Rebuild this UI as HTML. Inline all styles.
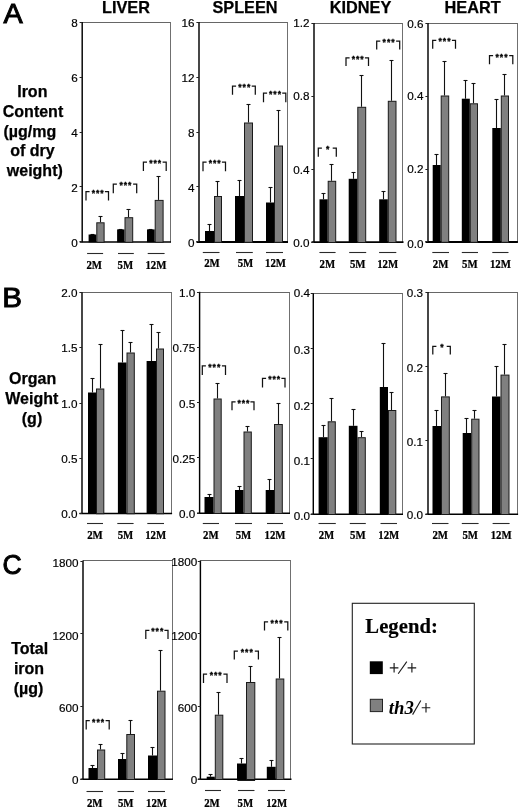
<!DOCTYPE html>
<html><head><meta charset="utf-8"><title>Figure</title>
<style>html,body{margin:0;padding:0;background:#fff;}body{width:520px;height:810px;overflow:hidden;font-family:"Liberation Sans",sans-serif;}svg{display:block;filter:blur(0.38px);}</style>
</head><body>
<svg width="520" height="810" viewBox="0 0 520 810" shape-rendering="auto">
<rect x="0" y="0" width="520" height="810" fill="#fff"/>
<line x1="82.2" y1="22.5" x2="171.0" y2="22.5" stroke="#666" stroke-width="1" />
<line x1="170.5" y1="22.5" x2="170.5" y2="242.3" stroke="#707070" stroke-width="1" />
<line x1="82.2" y1="22.0" x2="82.2" y2="242.3" stroke="#000" stroke-width="1.45" />
<line x1="79.7" y1="242.0" x2="171.0" y2="242.0" stroke="#000" stroke-width="1.5" />
<line x1="79.60000000000001" y1="22.5" x2="82.2" y2="22.5" stroke="#222" stroke-width="1" />
<text x="77.8" y="26.8" font-size="11.7" text-anchor="end" font-weight="normal" font-style="normal" font-family="Liberation Sans" fill="#000" stroke="#000" stroke-width="0.18">8</text>
<line x1="79.60000000000001" y1="77.5" x2="82.2" y2="77.5" stroke="#222" stroke-width="1" />
<text x="77.8" y="81.7" font-size="11.7" text-anchor="end" font-weight="normal" font-style="normal" font-family="Liberation Sans" fill="#000" stroke="#000" stroke-width="0.18">6</text>
<line x1="79.60000000000001" y1="132.5" x2="82.2" y2="132.5" stroke="#222" stroke-width="1" />
<text x="77.8" y="136.7" font-size="11.7" text-anchor="end" font-weight="normal" font-style="normal" font-family="Liberation Sans" fill="#000" stroke="#000" stroke-width="0.18">4</text>
<line x1="79.60000000000001" y1="186.5" x2="82.2" y2="186.5" stroke="#222" stroke-width="1" />
<text x="77.8" y="191.7" font-size="11.7" text-anchor="end" font-weight="normal" font-style="normal" font-family="Liberation Sans" fill="#000" stroke="#000" stroke-width="0.18">2</text>
<line x1="79.60000000000001" y1="241.5" x2="82.2" y2="241.5" stroke="#222" stroke-width="1" />
<text x="77.8" y="246.5" font-size="11.7" text-anchor="end" font-weight="normal" font-style="normal" font-family="Liberation Sans" fill="#000" stroke="#000" stroke-width="0.18">0</text>
<line x1="92.5" y1="234.5" x2="92.5" y2="234.5" stroke="#111" stroke-width="1.1" />
<line x1="90.5" y1="234.5" x2="94.5" y2="234.5" stroke="#111" stroke-width="1.1" />
<line x1="100.5" y1="216.9" x2="100.5" y2="222.3" stroke="#111" stroke-width="1.1" />
<line x1="98.5" y1="216.5" x2="102.5" y2="216.5" stroke="#111" stroke-width="1.1" />
<rect x="88.6" y="234.5" width="7.700000000000003" height="7.800000000000011" fill="#000"/>
<rect x="96.8" y="222.8" width="7.299999999999997" height="19.5" fill="#808080" stroke="#1a1a1a" stroke-width="1"/>
<path d="M86 200.5V191.5H89.6M104.9 191.5H108.5V200.5" fill="none" stroke="#111" stroke-width="1.25"/>
<text x="98.15" y="195.5" font-size="8.6" text-anchor="middle" font-weight="bold" font-style="normal" font-family="Liberation Sans" fill="#000" letter-spacing="1.0" stroke="#000" stroke-width="0.3">***</text>
<line x1="120.5" y1="229.4" x2="120.5" y2="229.4" stroke="#111" stroke-width="1.1" />
<line x1="118.5" y1="229.5" x2="122.5" y2="229.5" stroke="#111" stroke-width="1.1" />
<line x1="128.5" y1="210.1" x2="128.5" y2="217.2" stroke="#111" stroke-width="1.1" />
<line x1="126.5" y1="209.5" x2="130.5" y2="209.5" stroke="#111" stroke-width="1.1" />
<rect x="117.1" y="229.4" width="7.400000000000006" height="12.900000000000006" fill="#000"/>
<rect x="125.0" y="217.7" width="7.699999999999989" height="24.600000000000023" fill="#808080" stroke="#1a1a1a" stroke-width="1"/>
<path d="M113.3 193.3V184H116.89999999999999M133.1 184H136.7V193.3" fill="none" stroke="#111" stroke-width="1.25"/>
<text x="125.9" y="188.0" font-size="8.6" text-anchor="middle" font-weight="bold" font-style="normal" font-family="Liberation Sans" fill="#000" letter-spacing="1.0" stroke="#000" stroke-width="0.3">***</text>
<line x1="150.5" y1="229.4" x2="150.5" y2="229.4" stroke="#111" stroke-width="1.1" />
<line x1="148.5" y1="229.5" x2="152.5" y2="229.5" stroke="#111" stroke-width="1.1" />
<line x1="158.5" y1="176.4" x2="158.5" y2="199.9" stroke="#111" stroke-width="1.1" />
<line x1="156.5" y1="176.5" x2="160.5" y2="176.5" stroke="#111" stroke-width="1.1" />
<rect x="147" y="229.4" width="7.699999999999989" height="12.900000000000006" fill="#000"/>
<rect x="155.2" y="200.4" width="7.900000000000006" height="41.900000000000006" fill="#808080" stroke="#1a1a1a" stroke-width="1"/>
<path d="M143.4 170.9V162H147.0M162.6 162H166.2V170.9" fill="none" stroke="#111" stroke-width="1.25"/>
<text x="155.70000000000002" y="166.0" font-size="8.6" text-anchor="middle" font-weight="bold" font-style="normal" font-family="Liberation Sans" fill="#000" letter-spacing="1.0" stroke="#000" stroke-width="0.3">***</text>
<line x1="87.1" y1="253.5" x2="103.1" y2="253.5" stroke="#2a2a2a" stroke-width="1.1" />
<text transform="translate(94.2,268.6) scale(0.93,1)" font-size="11.6" text-anchor="middle" font-weight="bold" font-family="Liberation Serif" fill="#000" stroke="#000" stroke-width="0.25">2M</text>
<line x1="118" y1="253.5" x2="133.8" y2="253.5" stroke="#2a2a2a" stroke-width="1.1" />
<text transform="translate(125.3,268.6) scale(0.93,1)" font-size="11.6" text-anchor="middle" font-weight="bold" font-family="Liberation Serif" fill="#000" stroke="#000" stroke-width="0.25">5M</text>
<line x1="147.7" y1="253.5" x2="164.6" y2="253.5" stroke="#2a2a2a" stroke-width="1.1" />
<text transform="translate(155.9,268.6) scale(0.93,1)" font-size="11.6" text-anchor="middle" font-weight="bold" font-family="Liberation Serif" fill="#000" stroke="#000" stroke-width="0.25">12M</text>
<line x1="199" y1="22.5" x2="288.0" y2="22.5" stroke="#666" stroke-width="1" />
<line x1="287.5" y1="22.5" x2="287.5" y2="242.3" stroke="#707070" stroke-width="1" />
<line x1="199" y1="22.0" x2="199" y2="242.3" stroke="#000" stroke-width="1.45" />
<line x1="196.5" y1="242.0" x2="288.0" y2="242.0" stroke="#000" stroke-width="2.1" />
<line x1="196.4" y1="22.5" x2="199" y2="22.5" stroke="#222" stroke-width="1" />
<text x="194.6" y="26.8" font-size="11.7" text-anchor="end" font-weight="normal" font-style="normal" font-family="Liberation Sans" fill="#000" stroke="#000" stroke-width="0.18">16</text>
<line x1="196.4" y1="77.5" x2="199" y2="77.5" stroke="#222" stroke-width="1" />
<text x="194.6" y="81.7" font-size="11.7" text-anchor="end" font-weight="normal" font-style="normal" font-family="Liberation Sans" fill="#000" stroke="#000" stroke-width="0.18">12</text>
<line x1="196.4" y1="132.5" x2="199" y2="132.5" stroke="#222" stroke-width="1" />
<text x="194.6" y="136.7" font-size="11.7" text-anchor="end" font-weight="normal" font-style="normal" font-family="Liberation Sans" fill="#000" stroke="#000" stroke-width="0.18">8</text>
<line x1="196.4" y1="186.5" x2="199" y2="186.5" stroke="#222" stroke-width="1" />
<text x="194.6" y="191.7" font-size="11.7" text-anchor="end" font-weight="normal" font-style="normal" font-family="Liberation Sans" fill="#000" stroke="#000" stroke-width="0.18">4</text>
<line x1="196.4" y1="241.5" x2="199" y2="241.5" stroke="#222" stroke-width="1" />
<text x="194.6" y="246.5" font-size="11.7" text-anchor="end" font-weight="normal" font-style="normal" font-family="Liberation Sans" fill="#000" stroke="#000" stroke-width="0.18">0</text>
<line x1="209.5" y1="224.5" x2="209.5" y2="231" stroke="#111" stroke-width="1.1" />
<line x1="207.5" y1="224.5" x2="211.5" y2="224.5" stroke="#111" stroke-width="1.1" />
<line x1="217.5" y1="181.5" x2="217.5" y2="196" stroke="#111" stroke-width="1.1" />
<line x1="215.5" y1="181.5" x2="219.5" y2="181.5" stroke="#111" stroke-width="1.1" />
<rect x="205" y="231" width="9" height="11.300000000000011" fill="#000"/>
<rect x="214.5" y="196.5" width="7" height="45.80000000000001" fill="#808080" stroke="#1a1a1a" stroke-width="1"/>
<path d="M203 171.3V162H206.6M221.9 162H225.5V171.3" fill="none" stroke="#111" stroke-width="1.25"/>
<text x="215.15" y="166.0" font-size="8.6" text-anchor="middle" font-weight="bold" font-style="normal" font-family="Liberation Sans" fill="#000" letter-spacing="1.0" stroke="#000" stroke-width="0.3">***</text>
<line x1="239.5" y1="180.5" x2="239.5" y2="196" stroke="#111" stroke-width="1.1" />
<line x1="237.5" y1="180.5" x2="241.5" y2="180.5" stroke="#111" stroke-width="1.1" />
<line x1="248.5" y1="105" x2="248.5" y2="122.5" stroke="#111" stroke-width="1.1" />
<line x1="246.5" y1="104.5" x2="250.5" y2="104.5" stroke="#111" stroke-width="1.1" />
<rect x="235" y="196" width="9" height="46.30000000000001" fill="#000"/>
<rect x="244.5" y="123.0" width="8" height="119.30000000000001" fill="#808080" stroke="#1a1a1a" stroke-width="1"/>
<path d="M232.5 94.8V86H236.1M251.70000000000002 86H255.3V94.8" fill="none" stroke="#111" stroke-width="1.25"/>
<text x="244.8" y="90.0" font-size="8.6" text-anchor="middle" font-weight="bold" font-style="normal" font-family="Liberation Sans" fill="#000" letter-spacing="1.0" stroke="#000" stroke-width="0.3">***</text>
<line x1="270.5" y1="187.5" x2="270.5" y2="202.5" stroke="#111" stroke-width="1.1" />
<line x1="268.5" y1="187.5" x2="272.5" y2="187.5" stroke="#111" stroke-width="1.1" />
<line x1="278.5" y1="111" x2="278.5" y2="145.5" stroke="#111" stroke-width="1.1" />
<line x1="276.5" y1="110.5" x2="280.5" y2="110.5" stroke="#111" stroke-width="1.1" />
<rect x="266" y="202.5" width="8" height="39.80000000000001" fill="#000"/>
<rect x="274.5" y="146.0" width="8" height="96.30000000000001" fill="#808080" stroke="#1a1a1a" stroke-width="1"/>
<path d="M263.5 102.3V93H267.1M282.2 93H285.8V102.3" fill="none" stroke="#111" stroke-width="1.25"/>
<text x="275.54999999999995" y="97.0" font-size="8.6" text-anchor="middle" font-weight="bold" font-style="normal" font-family="Liberation Sans" fill="#000" letter-spacing="1.0" stroke="#000" stroke-width="0.3">***</text>
<line x1="202.8" y1="252.5" x2="219.5" y2="252.5" stroke="#2a2a2a" stroke-width="1.1" />
<text transform="translate(212,267.1) scale(0.93,1)" font-size="11.6" text-anchor="middle" font-weight="bold" font-family="Liberation Serif" fill="#000" stroke="#000" stroke-width="0.25">2M</text>
<line x1="236" y1="252.5" x2="252.8" y2="252.5" stroke="#2a2a2a" stroke-width="1.1" />
<text transform="translate(245.5,267.1) scale(0.93,1)" font-size="11.6" text-anchor="middle" font-weight="bold" font-family="Liberation Serif" fill="#000" stroke="#000" stroke-width="0.25">5M</text>
<line x1="266" y1="252.5" x2="283" y2="252.5" stroke="#2a2a2a" stroke-width="1.1" />
<text transform="translate(275.5,267.1) scale(0.93,1)" font-size="11.6" text-anchor="middle" font-weight="bold" font-family="Liberation Serif" fill="#000" stroke="#000" stroke-width="0.25">12M</text>
<line x1="314" y1="23.5" x2="403.0" y2="23.5" stroke="#666" stroke-width="1" />
<line x1="402.5" y1="23.5" x2="402.5" y2="242.5" stroke="#707070" stroke-width="1" />
<line x1="314" y1="23.1" x2="314" y2="242.5" stroke="#000" stroke-width="1.45" />
<line x1="311.5" y1="242.2" x2="403.5" y2="242.2" stroke="#000" stroke-width="1.7" />
<line x1="311.4" y1="23.5" x2="314" y2="23.5" stroke="#222" stroke-width="1" />
<text x="309.6" y="27.2" font-size="11.7" text-anchor="end" font-weight="normal" font-style="normal" font-family="Liberation Sans" fill="#000" stroke="#000" stroke-width="0.18">1.2</text>
<line x1="311.4" y1="96.5" x2="314" y2="96.5" stroke="#222" stroke-width="1" />
<text x="309.6" y="100.2" font-size="11.7" text-anchor="end" font-weight="normal" font-style="normal" font-family="Liberation Sans" fill="#000" stroke="#000" stroke-width="0.18">0.8</text>
<line x1="311.4" y1="169.5" x2="314" y2="169.5" stroke="#222" stroke-width="1" />
<text x="309.6" y="173.5" font-size="11.7" text-anchor="end" font-weight="normal" font-style="normal" font-family="Liberation Sans" fill="#000" stroke="#000" stroke-width="0.18">0.4</text>
<line x1="311.4" y1="242.5" x2="314" y2="242.5" stroke="#222" stroke-width="1" />
<text x="309.6" y="247.2" font-size="11.7" text-anchor="end" font-weight="normal" font-style="normal" font-family="Liberation Sans" fill="#000" stroke="#000" stroke-width="0.18">0.0</text>
<line x1="323.5" y1="193.8" x2="323.5" y2="199.3" stroke="#111" stroke-width="1.1" />
<line x1="321.5" y1="193.5" x2="325.5" y2="193.5" stroke="#111" stroke-width="1.1" />
<line x1="331.5" y1="164.8" x2="331.5" y2="180.8" stroke="#111" stroke-width="1.1" />
<line x1="329.5" y1="164.5" x2="333.5" y2="164.5" stroke="#111" stroke-width="1.1" />
<rect x="319.5" y="199.3" width="8.199999999999989" height="43.19999999999999" fill="#000"/>
<rect x="328.2" y="181.3" width="7.5" height="61.19999999999999" fill="#808080" stroke="#1a1a1a" stroke-width="1"/>
<path d="M318.3 156.7V148.2H321.90000000000003M332.7 148.2H336.3V156.7" fill="none" stroke="#111" stroke-width="1.25"/>
<text x="328.2" y="152.2" font-size="8.6" text-anchor="middle" font-weight="bold" font-style="normal" font-family="Liberation Sans" fill="#000" letter-spacing="1.0" stroke="#000" stroke-width="0.3">*</text>
<line x1="353.5" y1="172.8" x2="353.5" y2="178.8" stroke="#111" stroke-width="1.1" />
<line x1="351.5" y1="172.5" x2="355.5" y2="172.5" stroke="#111" stroke-width="1.1" />
<line x1="361.5" y1="75.8" x2="361.5" y2="106.8" stroke="#111" stroke-width="1.1" />
<line x1="359.5" y1="75.5" x2="363.5" y2="75.5" stroke="#111" stroke-width="1.1" />
<rect x="348.7" y="178.8" width="8.600000000000023" height="63.69999999999999" fill="#000"/>
<rect x="357.8" y="107.3" width="7.899999999999977" height="135.2" fill="#808080" stroke="#1a1a1a" stroke-width="1"/>
<path d="M346 66.0V57.8H349.6M364.9 57.8H368.5V66.0" fill="none" stroke="#111" stroke-width="1.25"/>
<text x="358.15" y="61.8" font-size="8.6" text-anchor="middle" font-weight="bold" font-style="normal" font-family="Liberation Sans" fill="#000" letter-spacing="1.0" stroke="#000" stroke-width="0.3">***</text>
<line x1="383.5" y1="191.3" x2="383.5" y2="199.3" stroke="#111" stroke-width="1.1" />
<line x1="381.5" y1="191.5" x2="385.5" y2="191.5" stroke="#111" stroke-width="1.1" />
<line x1="391.5" y1="60.8" x2="391.5" y2="100.8" stroke="#111" stroke-width="1.1" />
<line x1="389.5" y1="60.5" x2="393.5" y2="60.5" stroke="#111" stroke-width="1.1" />
<rect x="379.2" y="199.3" width="8.600000000000023" height="43.19999999999999" fill="#000"/>
<rect x="388.3" y="101.3" width="7.699999999999989" height="141.2" fill="#808080" stroke="#1a1a1a" stroke-width="1"/>
<path d="M376.7 49.5V41H380.3M396.09999999999997 41H399.7V49.5" fill="none" stroke="#111" stroke-width="1.25"/>
<text x="389.09999999999997" y="45.0" font-size="8.6" text-anchor="middle" font-weight="bold" font-style="normal" font-family="Liberation Sans" fill="#000" letter-spacing="1.0" stroke="#000" stroke-width="0.3">***</text>
<line x1="319.4" y1="252.5" x2="335.6" y2="252.5" stroke="#2a2a2a" stroke-width="1.1" />
<text transform="translate(327.3,267.9) scale(0.93,1)" font-size="11.6" text-anchor="middle" font-weight="bold" font-family="Liberation Serif" fill="#000" stroke="#000" stroke-width="0.25">2M</text>
<line x1="349.2" y1="252.5" x2="366.2" y2="252.5" stroke="#2a2a2a" stroke-width="1.1" />
<text transform="translate(357.7,267.9) scale(0.93,1)" font-size="11.6" text-anchor="middle" font-weight="bold" font-family="Liberation Serif" fill="#000" stroke="#000" stroke-width="0.25">5M</text>
<line x1="379.1" y1="252.5" x2="396.3" y2="252.5" stroke="#2a2a2a" stroke-width="1.1" />
<text transform="translate(387.70000000000005,267.9) scale(0.93,1)" font-size="11.6" text-anchor="middle" font-weight="bold" font-family="Liberation Serif" fill="#000" stroke="#000" stroke-width="0.25">12M</text>
<line x1="428" y1="23.5" x2="518.0" y2="23.5" stroke="#666" stroke-width="1" />
<line x1="517.5" y1="23.5" x2="517.5" y2="242.3" stroke="#707070" stroke-width="1" />
<line x1="428" y1="23.1" x2="428" y2="242.3" stroke="#000" stroke-width="1.45" />
<line x1="425.5" y1="242.0" x2="517.9" y2="242.0" stroke="#000" stroke-width="2.1" />
<line x1="425.4" y1="23.5" x2="428" y2="23.5" stroke="#222" stroke-width="1" />
<text x="423.6" y="27.5" font-size="11.7" text-anchor="end" font-weight="normal" font-style="normal" font-family="Liberation Sans" fill="#000" stroke="#000" stroke-width="0.18">0.6</text>
<line x1="425.4" y1="96.5" x2="428" y2="96.5" stroke="#222" stroke-width="1" />
<text x="423.6" y="100.2" font-size="11.7" text-anchor="end" font-weight="normal" font-style="normal" font-family="Liberation Sans" fill="#000" stroke="#000" stroke-width="0.18">0.4</text>
<line x1="425.4" y1="169.5" x2="428" y2="169.5" stroke="#222" stroke-width="1" />
<text x="423.6" y="173.2" font-size="11.7" text-anchor="end" font-weight="normal" font-style="normal" font-family="Liberation Sans" fill="#000" stroke="#000" stroke-width="0.18">0.2</text>
<line x1="425.4" y1="241.5" x2="428" y2="241.5" stroke="#222" stroke-width="1" />
<text x="423.6" y="247.5" font-size="11.7" text-anchor="end" font-weight="normal" font-style="normal" font-family="Liberation Sans" fill="#000" stroke="#000" stroke-width="0.18">0.0</text>
<line x1="436.5" y1="155" x2="436.5" y2="165" stroke="#111" stroke-width="1.1" />
<line x1="434.5" y1="154.5" x2="438.5" y2="154.5" stroke="#111" stroke-width="1.1" />
<line x1="444.5" y1="61.5" x2="444.5" y2="95.5" stroke="#111" stroke-width="1.1" />
<line x1="442.5" y1="61.5" x2="446.5" y2="61.5" stroke="#111" stroke-width="1.1" />
<rect x="432.7" y="165" width="8.0" height="77.30000000000001" fill="#000"/>
<rect x="441.2" y="96.0" width="7.5" height="146.3" fill="#808080" stroke="#1a1a1a" stroke-width="1"/>
<path d="M432.7 48.8V40.3H436.3M451.9 40.3H455.5V48.8" fill="none" stroke="#111" stroke-width="1.25"/>
<text x="445.0" y="44.3" font-size="8.6" text-anchor="middle" font-weight="bold" font-style="normal" font-family="Liberation Sans" fill="#000" letter-spacing="1.0" stroke="#000" stroke-width="0.3">***</text>
<line x1="465.5" y1="80.2" x2="465.5" y2="98.7" stroke="#111" stroke-width="1.1" />
<line x1="463.5" y1="80.5" x2="467.5" y2="80.5" stroke="#111" stroke-width="1.1" />
<line x1="473.5" y1="83.7" x2="473.5" y2="103.3" stroke="#111" stroke-width="1.1" />
<line x1="471.5" y1="83.5" x2="475.5" y2="83.5" stroke="#111" stroke-width="1.1" />
<rect x="461.8" y="98.7" width="8.0" height="143.60000000000002" fill="#000"/>
<rect x="470.3" y="103.8" width="7.199999999999989" height="138.5" fill="#808080" stroke="#1a1a1a" stroke-width="1"/>
<line x1="496.5" y1="99.8" x2="496.5" y2="128" stroke="#111" stroke-width="1.1" />
<line x1="494.5" y1="99.5" x2="498.5" y2="99.5" stroke="#111" stroke-width="1.1" />
<line x1="504.5" y1="74.2" x2="504.5" y2="95.5" stroke="#111" stroke-width="1.1" />
<line x1="502.5" y1="74.5" x2="506.5" y2="74.5" stroke="#111" stroke-width="1.1" />
<rect x="492.3" y="128" width="8.5" height="114.30000000000001" fill="#000"/>
<rect x="501.3" y="96.0" width="7.199999999999989" height="146.3" fill="#808080" stroke="#1a1a1a" stroke-width="1"/>
<path d="M489.5 64.2V55.7H493.1M509.19999999999993 55.7H512.8V64.2" fill="none" stroke="#111" stroke-width="1.25"/>
<text x="502.04999999999995" y="59.7" font-size="8.6" text-anchor="middle" font-weight="bold" font-style="normal" font-family="Liberation Sans" fill="#000" letter-spacing="1.0" stroke="#000" stroke-width="0.3">***</text>
<line x1="432.3" y1="252.5" x2="449" y2="252.5" stroke="#2a2a2a" stroke-width="1.1" />
<text transform="translate(440.65,267.7) scale(0.93,1)" font-size="11.6" text-anchor="middle" font-weight="bold" font-family="Liberation Serif" fill="#000" stroke="#000" stroke-width="0.25">2M</text>
<line x1="461.8" y1="252.5" x2="478" y2="252.5" stroke="#2a2a2a" stroke-width="1.1" />
<text transform="translate(469.9,267.7) scale(0.93,1)" font-size="11.6" text-anchor="middle" font-weight="bold" font-family="Liberation Serif" fill="#000" stroke="#000" stroke-width="0.25">5M</text>
<line x1="492.3" y1="252.5" x2="508.5" y2="252.5" stroke="#2a2a2a" stroke-width="1.1" />
<text transform="translate(500.4,267.7) scale(0.93,1)" font-size="11.6" text-anchor="middle" font-weight="bold" font-family="Liberation Serif" fill="#000" stroke="#000" stroke-width="0.25">12M</text>
<line x1="82" y1="292.5" x2="172.0" y2="292.5" stroke="#666" stroke-width="1" />
<line x1="171.5" y1="292.5" x2="171.5" y2="513.7" stroke="#707070" stroke-width="1" />
<line x1="82" y1="292.3" x2="82" y2="513.7" stroke="#000" stroke-width="1.45" />
<line x1="79.5" y1="513.4000000000001" x2="172.1" y2="513.4000000000001" stroke="#000" stroke-width="1.5" />
<line x1="79.4" y1="292.5" x2="82" y2="292.5" stroke="#222" stroke-width="1" />
<text x="77.6" y="296.7" font-size="11.7" text-anchor="end" font-weight="normal" font-style="normal" font-family="Liberation Sans" fill="#000" stroke="#000" stroke-width="0.18">2.0</text>
<line x1="79.4" y1="347.5" x2="82" y2="347.5" stroke="#222" stroke-width="1" />
<text x="77.6" y="352.2" font-size="11.7" text-anchor="end" font-weight="normal" font-style="normal" font-family="Liberation Sans" fill="#000" stroke="#000" stroke-width="0.18">1.5</text>
<line x1="79.4" y1="403.5" x2="82" y2="403.5" stroke="#222" stroke-width="1" />
<text x="77.6" y="407.59999999999997" font-size="11.7" text-anchor="end" font-weight="normal" font-style="normal" font-family="Liberation Sans" fill="#000" stroke="#000" stroke-width="0.18">1.0</text>
<line x1="79.4" y1="458.5" x2="82" y2="458.5" stroke="#222" stroke-width="1" />
<text x="77.6" y="463.0" font-size="11.7" text-anchor="end" font-weight="normal" font-style="normal" font-family="Liberation Sans" fill="#000" stroke="#000" stroke-width="0.18">0.5</text>
<line x1="79.4" y1="513.5" x2="82" y2="513.5" stroke="#222" stroke-width="1" />
<text x="77.6" y="518.2" font-size="11.7" text-anchor="end" font-weight="normal" font-style="normal" font-family="Liberation Sans" fill="#000" stroke="#000" stroke-width="0.18">0.0</text>
<line x1="92.5" y1="378.5" x2="92.5" y2="392.5" stroke="#111" stroke-width="1.1" />
<line x1="90.5" y1="378.5" x2="94.5" y2="378.5" stroke="#111" stroke-width="1.1" />
<line x1="100.5" y1="344.5" x2="100.5" y2="388.5" stroke="#111" stroke-width="1.1" />
<line x1="98.5" y1="344.5" x2="102.5" y2="344.5" stroke="#111" stroke-width="1.1" />
<rect x="88" y="392.5" width="8" height="121.20000000000005" fill="#000"/>
<rect x="96.5" y="389.0" width="7.299999999999997" height="124.70000000000005" fill="#808080" stroke="#1a1a1a" stroke-width="1"/>
<line x1="122.5" y1="330.5" x2="122.5" y2="362.5" stroke="#111" stroke-width="1.1" />
<line x1="120.5" y1="330.5" x2="124.5" y2="330.5" stroke="#111" stroke-width="1.1" />
<line x1="130.5" y1="342.5" x2="130.5" y2="352.5" stroke="#111" stroke-width="1.1" />
<line x1="128.5" y1="342.5" x2="132.5" y2="342.5" stroke="#111" stroke-width="1.1" />
<rect x="117.9" y="362.5" width="8.599999999999994" height="151.20000000000005" fill="#000"/>
<rect x="127.0" y="353.0" width="7.300000000000011" height="160.70000000000005" fill="#808080" stroke="#1a1a1a" stroke-width="1"/>
<line x1="151.5" y1="324.5" x2="151.5" y2="361" stroke="#111" stroke-width="1.1" />
<line x1="149.5" y1="324.5" x2="153.5" y2="324.5" stroke="#111" stroke-width="1.1" />
<line x1="158.5" y1="332.5" x2="158.5" y2="348.5" stroke="#111" stroke-width="1.1" />
<line x1="156.5" y1="332.5" x2="160.5" y2="332.5" stroke="#111" stroke-width="1.1" />
<rect x="146.6" y="361" width="9.400000000000006" height="152.70000000000005" fill="#000"/>
<rect x="156.5" y="349.0" width="7" height="164.70000000000005" fill="#808080" stroke="#1a1a1a" stroke-width="1"/>
<line x1="87" y1="523.5" x2="103" y2="523.5" stroke="#2a2a2a" stroke-width="1.1" />
<text transform="translate(95.0,538.6) scale(0.93,1)" font-size="11.6" text-anchor="middle" font-weight="bold" font-family="Liberation Serif" fill="#000" stroke="#000" stroke-width="0.25">2M</text>
<line x1="117.3" y1="523.5" x2="133.6" y2="523.5" stroke="#2a2a2a" stroke-width="1.1" />
<text transform="translate(125.44999999999999,538.6) scale(0.93,1)" font-size="11.6" text-anchor="middle" font-weight="bold" font-family="Liberation Serif" fill="#000" stroke="#000" stroke-width="0.25">5M</text>
<line x1="147.3" y1="523.5" x2="164" y2="523.5" stroke="#2a2a2a" stroke-width="1.1" />
<text transform="translate(155.65,538.6) scale(0.93,1)" font-size="11.6" text-anchor="middle" font-weight="bold" font-family="Liberation Serif" fill="#000" stroke="#000" stroke-width="0.25">12M</text>
<line x1="199.6" y1="292.5" x2="290.0" y2="292.5" stroke="#666" stroke-width="1" />
<line x1="289.5" y1="292.5" x2="289.5" y2="513.5" stroke="#707070" stroke-width="1" />
<line x1="199.6" y1="291.8" x2="199.6" y2="513.5" stroke="#000" stroke-width="1.45" />
<line x1="197.1" y1="513.2" x2="290.0" y2="513.2" stroke="#000" stroke-width="1.5" />
<line x1="197.0" y1="292.5" x2="199.6" y2="292.5" stroke="#222" stroke-width="1" />
<text x="195.2" y="296.7" font-size="11.7" text-anchor="end" font-weight="normal" font-style="normal" font-family="Liberation Sans" fill="#000" stroke="#000" stroke-width="0.18">1.0</text>
<line x1="197.0" y1="347.5" x2="199.6" y2="347.5" stroke="#222" stroke-width="1" />
<text x="195.2" y="352.2" font-size="11.7" text-anchor="end" font-weight="normal" font-style="normal" font-family="Liberation Sans" fill="#000" stroke="#000" stroke-width="0.18">0.75</text>
<line x1="197.0" y1="402.5" x2="199.6" y2="402.5" stroke="#222" stroke-width="1" />
<text x="195.2" y="407.59999999999997" font-size="11.7" text-anchor="end" font-weight="normal" font-style="normal" font-family="Liberation Sans" fill="#000" stroke="#000" stroke-width="0.18">0.5</text>
<line x1="197.0" y1="457.5" x2="199.6" y2="457.5" stroke="#222" stroke-width="1" />
<text x="195.2" y="463.0" font-size="11.7" text-anchor="end" font-weight="normal" font-style="normal" font-family="Liberation Sans" fill="#000" stroke="#000" stroke-width="0.18">0.25</text>
<line x1="197.0" y1="513.5" x2="199.6" y2="513.5" stroke="#222" stroke-width="1" />
<text x="195.2" y="518.2" font-size="11.7" text-anchor="end" font-weight="normal" font-style="normal" font-family="Liberation Sans" fill="#000" stroke="#000" stroke-width="0.18">0.0</text>
<line x1="209.5" y1="494.5" x2="209.5" y2="497" stroke="#111" stroke-width="1.1" />
<line x1="207.5" y1="494.5" x2="211.5" y2="494.5" stroke="#111" stroke-width="1.1" />
<line x1="217.5" y1="384" x2="217.5" y2="398.5" stroke="#111" stroke-width="1.1" />
<line x1="215.5" y1="383.5" x2="219.5" y2="383.5" stroke="#111" stroke-width="1.1" />
<rect x="204.5" y="497" width="9.0" height="16.5" fill="#000"/>
<rect x="214.0" y="399.0" width="7.199999999999989" height="114.5" fill="#808080" stroke="#1a1a1a" stroke-width="1"/>
<path d="M202.3 375.0V365.8H205.9M221.9 365.8H225.5V375.0" fill="none" stroke="#111" stroke-width="1.25"/>
<text x="214.8" y="369.8" font-size="8.6" text-anchor="middle" font-weight="bold" font-style="normal" font-family="Liberation Sans" fill="#000" letter-spacing="1.0" stroke="#000" stroke-width="0.3">***</text>
<line x1="239.5" y1="486.5" x2="239.5" y2="490" stroke="#111" stroke-width="1.1" />
<line x1="237.5" y1="486.5" x2="241.5" y2="486.5" stroke="#111" stroke-width="1.1" />
<line x1="247.5" y1="426.5" x2="247.5" y2="431.5" stroke="#111" stroke-width="1.1" />
<line x1="245.5" y1="426.5" x2="249.5" y2="426.5" stroke="#111" stroke-width="1.1" />
<rect x="235" y="490" width="8.5" height="23.5" fill="#000"/>
<rect x="244.0" y="432.0" width="7.300000000000011" height="81.5" fill="#808080" stroke="#1a1a1a" stroke-width="1"/>
<path d="M232 410.2V401.8H235.6M250.4 401.8H254V410.2" fill="none" stroke="#111" stroke-width="1.25"/>
<text x="243.9" y="405.8" font-size="8.6" text-anchor="middle" font-weight="bold" font-style="normal" font-family="Liberation Sans" fill="#000" letter-spacing="1.0" stroke="#000" stroke-width="0.3">***</text>
<line x1="269.5" y1="480" x2="269.5" y2="490" stroke="#111" stroke-width="1.1" />
<line x1="267.5" y1="479.5" x2="271.5" y2="479.5" stroke="#111" stroke-width="1.1" />
<line x1="278.5" y1="404" x2="278.5" y2="424" stroke="#111" stroke-width="1.1" />
<line x1="276.5" y1="403.5" x2="280.5" y2="403.5" stroke="#111" stroke-width="1.1" />
<rect x="265.7" y="490" width="8.300000000000011" height="23.5" fill="#000"/>
<rect x="274.5" y="424.5" width="7.800000000000011" height="89.0" fill="#808080" stroke="#1a1a1a" stroke-width="1"/>
<path d="M262.5 387.5V378.3H266.1M281.4 378.3H285V387.5" fill="none" stroke="#111" stroke-width="1.25"/>
<text x="274.65" y="382.3" font-size="8.6" text-anchor="middle" font-weight="bold" font-style="normal" font-family="Liberation Sans" fill="#000" letter-spacing="1.0" stroke="#000" stroke-width="0.3">***</text>
<line x1="202.8" y1="523.5" x2="219" y2="523.5" stroke="#2a2a2a" stroke-width="1.1" />
<text transform="translate(210.9,539.2) scale(0.93,1)" font-size="11.6" text-anchor="middle" font-weight="bold" font-family="Liberation Serif" fill="#000" stroke="#000" stroke-width="0.25">2M</text>
<line x1="235" y1="523.5" x2="252" y2="523.5" stroke="#2a2a2a" stroke-width="1.1" />
<text transform="translate(243.5,539.2) scale(0.93,1)" font-size="11.6" text-anchor="middle" font-weight="bold" font-family="Liberation Serif" fill="#000" stroke="#000" stroke-width="0.25">5M</text>
<line x1="267" y1="523.5" x2="283" y2="523.5" stroke="#2a2a2a" stroke-width="1.1" />
<text transform="translate(275.0,539.2) scale(0.93,1)" font-size="11.6" text-anchor="middle" font-weight="bold" font-family="Liberation Serif" fill="#000" stroke="#000" stroke-width="0.25">12M</text>
<line x1="313.3" y1="293.5" x2="403.0" y2="293.5" stroke="#666" stroke-width="1" />
<line x1="402.5" y1="293.5" x2="402.5" y2="514.5" stroke="#707070" stroke-width="1" />
<line x1="313.3" y1="293.2" x2="313.3" y2="514.5" stroke="#000" stroke-width="1.45" />
<line x1="310.8" y1="514.2" x2="403.0" y2="514.2" stroke="#000" stroke-width="1.6" />
<line x1="310.7" y1="293.5" x2="313.3" y2="293.5" stroke="#222" stroke-width="1" />
<text x="309.90000000000003" y="296.8" font-size="11.7" text-anchor="end" font-weight="normal" font-style="normal" font-family="Liberation Sans" fill="#000" stroke="#000" stroke-width="0.18">0.4</text>
<line x1="310.7" y1="348.5" x2="313.3" y2="348.5" stroke="#222" stroke-width="1" />
<text x="309.90000000000003" y="353.7" font-size="11.7" text-anchor="end" font-weight="normal" font-style="normal" font-family="Liberation Sans" fill="#000" stroke="#000" stroke-width="0.18">0.3</text>
<line x1="310.7" y1="403.5" x2="313.3" y2="403.5" stroke="#222" stroke-width="1" />
<text x="309.90000000000003" y="409.7" font-size="11.7" text-anchor="end" font-weight="normal" font-style="normal" font-family="Liberation Sans" fill="#000" stroke="#000" stroke-width="0.18">0.2</text>
<line x1="310.7" y1="458.5" x2="313.3" y2="458.5" stroke="#222" stroke-width="1" />
<text x="309.90000000000003" y="464.9" font-size="11.7" text-anchor="end" font-weight="normal" font-style="normal" font-family="Liberation Sans" fill="#000" stroke="#000" stroke-width="0.18">0.1</text>
<line x1="310.7" y1="514.5" x2="313.3" y2="514.5" stroke="#222" stroke-width="1" />
<text x="309.90000000000003" y="519.9000000000001" font-size="11.7" text-anchor="end" font-weight="normal" font-style="normal" font-family="Liberation Sans" fill="#000" stroke="#000" stroke-width="0.18">0.0</text>
<line x1="323.5" y1="425.5" x2="323.5" y2="437.2" stroke="#111" stroke-width="1.1" />
<line x1="321.5" y1="425.5" x2="325.5" y2="425.5" stroke="#111" stroke-width="1.1" />
<line x1="331.5" y1="398.7" x2="331.5" y2="421.3" stroke="#111" stroke-width="1.1" />
<line x1="329.5" y1="398.5" x2="333.5" y2="398.5" stroke="#111" stroke-width="1.1" />
<rect x="318.6" y="437.2" width="9.099999999999966" height="77.30000000000001" fill="#000"/>
<rect x="328.2" y="421.8" width="7.100000000000023" height="92.69999999999999" fill="#808080" stroke="#1a1a1a" stroke-width="1"/>
<line x1="353.5" y1="409.7" x2="353.5" y2="425.8" stroke="#111" stroke-width="1.1" />
<line x1="351.5" y1="409.5" x2="355.5" y2="409.5" stroke="#111" stroke-width="1.1" />
<line x1="361.5" y1="431.8" x2="361.5" y2="437.2" stroke="#111" stroke-width="1.1" />
<line x1="359.5" y1="431.5" x2="363.5" y2="431.5" stroke="#111" stroke-width="1.1" />
<rect x="348.8" y="425.8" width="8.699999999999989" height="88.69999999999999" fill="#000"/>
<rect x="358.0" y="437.7" width="7.300000000000011" height="76.80000000000001" fill="#808080" stroke="#1a1a1a" stroke-width="1"/>
<line x1="383.5" y1="343.5" x2="383.5" y2="387" stroke="#111" stroke-width="1.1" />
<line x1="381.5" y1="343.5" x2="385.5" y2="343.5" stroke="#111" stroke-width="1.1" />
<line x1="391.5" y1="393" x2="391.5" y2="410" stroke="#111" stroke-width="1.1" />
<line x1="389.5" y1="392.5" x2="393.5" y2="392.5" stroke="#111" stroke-width="1.1" />
<rect x="379.8" y="387" width="8.199999999999989" height="127.5" fill="#000"/>
<rect x="388.5" y="410.5" width="7.300000000000011" height="104.0" fill="#808080" stroke="#1a1a1a" stroke-width="1"/>
<line x1="318.5" y1="523.5" x2="335.8" y2="523.5" stroke="#2a2a2a" stroke-width="1.1" />
<text transform="translate(326.5,538.7) scale(0.93,1)" font-size="11.6" text-anchor="middle" font-weight="bold" font-family="Liberation Serif" fill="#000" stroke="#000" stroke-width="0.25">2M</text>
<line x1="349.8" y1="523.5" x2="365.8" y2="523.5" stroke="#2a2a2a" stroke-width="1.1" />
<text transform="translate(357.8,538.7) scale(0.93,1)" font-size="11.6" text-anchor="middle" font-weight="bold" font-family="Liberation Serif" fill="#000" stroke="#000" stroke-width="0.25">5M</text>
<line x1="380.5" y1="523.5" x2="397" y2="523.5" stroke="#2a2a2a" stroke-width="1.1" />
<text transform="translate(388.75,538.7) scale(0.93,1)" font-size="11.6" text-anchor="middle" font-weight="bold" font-family="Liberation Serif" fill="#000" stroke="#000" stroke-width="0.25">12M</text>
<line x1="428" y1="292.5" x2="518.0" y2="292.5" stroke="#666" stroke-width="1" />
<line x1="517.5" y1="292.5" x2="517.5" y2="514.5" stroke="#707070" stroke-width="1" />
<line x1="428" y1="292.1" x2="428" y2="514.5" stroke="#000" stroke-width="1.45" />
<line x1="425.5" y1="514.2" x2="518.1" y2="514.2" stroke="#000" stroke-width="1.6" />
<line x1="425.4" y1="292.5" x2="428" y2="292.5" stroke="#222" stroke-width="1" />
<text x="423.0" y="296.59999999999997" font-size="11.7" text-anchor="end" font-weight="normal" font-style="normal" font-family="Liberation Sans" fill="#000" stroke="#000" stroke-width="0.18">0.3</text>
<line x1="425.4" y1="366.5" x2="428" y2="366.5" stroke="#222" stroke-width="1" />
<text x="423.0" y="372.2" font-size="11.7" text-anchor="end" font-weight="normal" font-style="normal" font-family="Liberation Sans" fill="#000" stroke="#000" stroke-width="0.18">0.2</text>
<line x1="425.4" y1="440.5" x2="428" y2="440.5" stroke="#222" stroke-width="1" />
<text x="423.0" y="445.7" font-size="11.7" text-anchor="end" font-weight="normal" font-style="normal" font-family="Liberation Sans" fill="#000" stroke="#000" stroke-width="0.18">0.1</text>
<line x1="425.4" y1="514.5" x2="428" y2="514.5" stroke="#222" stroke-width="1" />
<text x="423.0" y="518.6" font-size="11.7" text-anchor="end" font-weight="normal" font-style="normal" font-family="Liberation Sans" fill="#000" stroke="#000" stroke-width="0.18">0.0</text>
<line x1="436.5" y1="410.5" x2="436.5" y2="426" stroke="#111" stroke-width="1.1" />
<line x1="434.5" y1="410.5" x2="438.5" y2="410.5" stroke="#111" stroke-width="1.1" />
<line x1="445.5" y1="373.5" x2="445.5" y2="396.4" stroke="#111" stroke-width="1.1" />
<line x1="443.5" y1="373.5" x2="447.5" y2="373.5" stroke="#111" stroke-width="1.1" />
<rect x="432.5" y="426" width="8.5" height="88.5" fill="#000"/>
<rect x="441.5" y="396.9" width="7.800000000000011" height="117.60000000000002" fill="#808080" stroke="#1a1a1a" stroke-width="1"/>
<path d="M432.8 354.4V346.4H436.40000000000003M446.7 346.4H450.3V354.4" fill="none" stroke="#111" stroke-width="1.25"/>
<text x="442.45" y="350.4" font-size="8.6" text-anchor="middle" font-weight="bold" font-style="normal" font-family="Liberation Sans" fill="#000" letter-spacing="1.0" stroke="#000" stroke-width="0.3">*</text>
<line x1="466.5" y1="418.5" x2="466.5" y2="433" stroke="#111" stroke-width="1.1" />
<line x1="464.5" y1="418.5" x2="468.5" y2="418.5" stroke="#111" stroke-width="1.1" />
<line x1="474.5" y1="410.5" x2="474.5" y2="418.7" stroke="#111" stroke-width="1.1" />
<line x1="472.5" y1="410.5" x2="476.5" y2="410.5" stroke="#111" stroke-width="1.1" />
<rect x="462.7" y="433" width="8.5" height="81.5" fill="#000"/>
<rect x="471.7" y="419.2" width="7.300000000000011" height="95.30000000000001" fill="#808080" stroke="#1a1a1a" stroke-width="1"/>
<line x1="496.5" y1="367" x2="496.5" y2="396.5" stroke="#111" stroke-width="1.1" />
<line x1="494.5" y1="366.5" x2="498.5" y2="366.5" stroke="#111" stroke-width="1.1" />
<line x1="504.5" y1="344.5" x2="504.5" y2="374.6" stroke="#111" stroke-width="1.1" />
<line x1="502.5" y1="344.5" x2="506.5" y2="344.5" stroke="#111" stroke-width="1.1" />
<rect x="492" y="396.5" width="8.5" height="118.0" fill="#000"/>
<rect x="501.0" y="375.1" width="8.0" height="139.39999999999998" fill="#808080" stroke="#1a1a1a" stroke-width="1"/>
<line x1="432" y1="523.5" x2="448.5" y2="523.5" stroke="#2a2a2a" stroke-width="1.1" />
<text transform="translate(440.25,538.7) scale(0.93,1)" font-size="11.6" text-anchor="middle" font-weight="bold" font-family="Liberation Serif" fill="#000" stroke="#000" stroke-width="0.25">2M</text>
<line x1="461.8" y1="523.5" x2="478.6" y2="523.5" stroke="#2a2a2a" stroke-width="1.1" />
<text transform="translate(470.20000000000005,538.7) scale(0.93,1)" font-size="11.6" text-anchor="middle" font-weight="bold" font-family="Liberation Serif" fill="#000" stroke="#000" stroke-width="0.25">5M</text>
<line x1="492.6" y1="523.5" x2="509.6" y2="523.5" stroke="#2a2a2a" stroke-width="1.1" />
<text transform="translate(501.1,538.7) scale(0.93,1)" font-size="11.6" text-anchor="middle" font-weight="bold" font-family="Liberation Serif" fill="#000" stroke="#000" stroke-width="0.25">12M</text>
<line x1="83" y1="560.5" x2="173.0" y2="560.5" stroke="#666" stroke-width="1" />
<line x1="172.5" y1="560.5" x2="172.5" y2="779.5" stroke="#707070" stroke-width="1" />
<line x1="83" y1="560.5" x2="83" y2="779.5" stroke="#000" stroke-width="1.45" />
<line x1="80.5" y1="779.2" x2="172.9" y2="779.2" stroke="#000" stroke-width="1.6" />
<line x1="80.4" y1="561.5" x2="83" y2="561.5" stroke="#222" stroke-width="1" />
<text x="78.6" y="566.6" font-size="11.7" text-anchor="end" font-weight="normal" font-style="normal" font-family="Liberation Sans" fill="#000" stroke="#000" stroke-width="0.18">1800</text>
<line x1="80.4" y1="633.5" x2="83" y2="633.5" stroke="#222" stroke-width="1" />
<text x="78.6" y="639.5" font-size="11.7" text-anchor="end" font-weight="normal" font-style="normal" font-family="Liberation Sans" fill="#000" stroke="#000" stroke-width="0.18">1200</text>
<line x1="80.4" y1="706.5" x2="83" y2="706.5" stroke="#222" stroke-width="1" />
<text x="78.6" y="712.2" font-size="11.7" text-anchor="end" font-weight="normal" font-style="normal" font-family="Liberation Sans" fill="#000" stroke="#000" stroke-width="0.18">600</text>
<line x1="80.4" y1="779.5" x2="83" y2="779.5" stroke="#222" stroke-width="1" />
<text x="78.6" y="783.8000000000001" font-size="11.7" text-anchor="end" font-weight="normal" font-style="normal" font-family="Liberation Sans" fill="#000" stroke="#000" stroke-width="0.18">0</text>
<line x1="92.5" y1="765.5" x2="92.5" y2="768" stroke="#111" stroke-width="1.1" />
<line x1="90.5" y1="765.5" x2="94.5" y2="765.5" stroke="#111" stroke-width="1.1" />
<line x1="100.5" y1="745" x2="100.5" y2="749.5" stroke="#111" stroke-width="1.1" />
<line x1="98.5" y1="744.5" x2="102.5" y2="744.5" stroke="#111" stroke-width="1.1" />
<rect x="88.5" y="768" width="8.5" height="11.5" fill="#000"/>
<rect x="97.5" y="750.0" width="7.200000000000003" height="29.5" fill="#808080" stroke="#1a1a1a" stroke-width="1"/>
<path d="M86.2 729.5V720.5H89.8M105.60000000000001 720.5H109.2V729.5" fill="none" stroke="#111" stroke-width="1.25"/>
<text x="98.60000000000001" y="724.5" font-size="8.6" text-anchor="middle" font-weight="bold" font-style="normal" font-family="Liberation Sans" fill="#000" letter-spacing="1.0" stroke="#000" stroke-width="0.3">***</text>
<line x1="122.5" y1="754" x2="122.5" y2="759" stroke="#111" stroke-width="1.1" />
<line x1="120.5" y1="753.5" x2="124.5" y2="753.5" stroke="#111" stroke-width="1.1" />
<line x1="130.5" y1="720.5" x2="130.5" y2="734" stroke="#111" stroke-width="1.1" />
<line x1="128.5" y1="720.5" x2="132.5" y2="720.5" stroke="#111" stroke-width="1.1" />
<rect x="118" y="759" width="8.299999999999997" height="20.5" fill="#000"/>
<rect x="126.8" y="734.5" width="7.700000000000003" height="45.0" fill="#808080" stroke="#1a1a1a" stroke-width="1"/>
<line x1="152.5" y1="748" x2="152.5" y2="755.5" stroke="#111" stroke-width="1.1" />
<line x1="150.5" y1="747.5" x2="154.5" y2="747.5" stroke="#111" stroke-width="1.1" />
<line x1="160.5" y1="651" x2="160.5" y2="690.7" stroke="#111" stroke-width="1.1" />
<line x1="158.5" y1="650.5" x2="162.5" y2="650.5" stroke="#111" stroke-width="1.1" />
<rect x="148" y="755.5" width="9" height="24.0" fill="#000"/>
<rect x="157.5" y="691.2" width="7.5" height="88.29999999999995" fill="#808080" stroke="#1a1a1a" stroke-width="1"/>
<path d="M145.8 639.0V630.3H149.4M164.4 630.3H168V639.0" fill="none" stroke="#111" stroke-width="1.25"/>
<text x="157.8" y="634.3" font-size="8.6" text-anchor="middle" font-weight="bold" font-style="normal" font-family="Liberation Sans" fill="#000" letter-spacing="1.0" stroke="#000" stroke-width="0.3">***</text>
<line x1="86.5" y1="791.5" x2="103" y2="791.5" stroke="#2a2a2a" stroke-width="1.1" />
<text transform="translate(94.75,807.2) scale(0.93,1)" font-size="11.6" text-anchor="middle" font-weight="bold" font-family="Liberation Serif" fill="#000" stroke="#000" stroke-width="0.25">2M</text>
<line x1="117.5" y1="791.5" x2="134" y2="791.5" stroke="#2a2a2a" stroke-width="1.1" />
<text transform="translate(125.75,807.2) scale(0.93,1)" font-size="11.6" text-anchor="middle" font-weight="bold" font-family="Liberation Serif" fill="#000" stroke="#000" stroke-width="0.25">5M</text>
<line x1="148" y1="791.5" x2="165" y2="791.5" stroke="#2a2a2a" stroke-width="1.1" />
<text transform="translate(156.5,807.2) scale(0.93,1)" font-size="11.6" text-anchor="middle" font-weight="bold" font-family="Liberation Serif" fill="#000" stroke="#000" stroke-width="0.25">12M</text>
<line x1="200.4" y1="560.5" x2="291.0" y2="560.5" stroke="#666" stroke-width="1" />
<line x1="290.5" y1="560.5" x2="290.5" y2="779.5" stroke="#707070" stroke-width="1" />
<line x1="200.4" y1="560.5" x2="200.4" y2="779.5" stroke="#000" stroke-width="1.45" />
<line x1="197.9" y1="779.2" x2="291.5" y2="779.2" stroke="#000" stroke-width="1.5" />
<line x1="197.8" y1="561.5" x2="200.4" y2="561.5" stroke="#222" stroke-width="1" />
<text x="197.2" y="566.0" font-size="11.7" text-anchor="end" font-weight="normal" font-style="normal" font-family="Liberation Sans" fill="#000" stroke="#000" stroke-width="0.18">1800</text>
<line x1="197.8" y1="633.5" x2="200.4" y2="633.5" stroke="#222" stroke-width="1" />
<text x="197.2" y="639.5" font-size="11.7" text-anchor="end" font-weight="normal" font-style="normal" font-family="Liberation Sans" fill="#000" stroke="#000" stroke-width="0.18">1200</text>
<line x1="197.8" y1="706.5" x2="200.4" y2="706.5" stroke="#222" stroke-width="1" />
<text x="197.2" y="712.2" font-size="11.7" text-anchor="end" font-weight="normal" font-style="normal" font-family="Liberation Sans" fill="#000" stroke="#000" stroke-width="0.18">600</text>
<line x1="197.8" y1="779.5" x2="200.4" y2="779.5" stroke="#222" stroke-width="1" />
<text x="197.2" y="783.8000000000001" font-size="11.7" text-anchor="end" font-weight="normal" font-style="normal" font-family="Liberation Sans" fill="#000" stroke="#000" stroke-width="0.18">0</text>
<line x1="210.5" y1="774.2" x2="210.5" y2="776.7" stroke="#111" stroke-width="1.1" />
<line x1="208.5" y1="774.5" x2="212.5" y2="774.5" stroke="#111" stroke-width="1.1" />
<line x1="218.5" y1="692.5" x2="218.5" y2="714.7" stroke="#111" stroke-width="1.1" />
<line x1="216.5" y1="692.5" x2="220.5" y2="692.5" stroke="#111" stroke-width="1.1" />
<rect x="206.7" y="776.7" width="8.100000000000023" height="2.7999999999999545" fill="#000"/>
<rect x="215.3" y="715.2" width="7.5" height="64.29999999999995" fill="#808080" stroke="#1a1a1a" stroke-width="1"/>
<path d="M203.5 683.0V674H207.1M223.4 674H227V683.0" fill="none" stroke="#111" stroke-width="1.25"/>
<text x="216.15" y="678.0" font-size="8.6" text-anchor="middle" font-weight="bold" font-style="normal" font-family="Liberation Sans" fill="#000" letter-spacing="1.0" stroke="#000" stroke-width="0.3">***</text>
<line x1="241.5" y1="759" x2="241.5" y2="763.5" stroke="#111" stroke-width="1.1" />
<line x1="239.5" y1="758.5" x2="243.5" y2="758.5" stroke="#111" stroke-width="1.1" />
<line x1="250.5" y1="666.5" x2="250.5" y2="682" stroke="#111" stroke-width="1.1" />
<line x1="248.5" y1="666.5" x2="252.5" y2="666.5" stroke="#111" stroke-width="1.1" />
<rect x="237" y="763.5" width="9" height="16.0" fill="#000"/>
<rect x="246.5" y="682.5" width="8.300000000000011" height="97.0" fill="#808080" stroke="#1a1a1a" stroke-width="1"/>
<path d="M234.3 659.5V651.2H237.9M254.79999999999998 651.2H258.4V659.5" fill="none" stroke="#111" stroke-width="1.25"/>
<text x="247.25" y="655.2" font-size="8.6" text-anchor="middle" font-weight="bold" font-style="normal" font-family="Liberation Sans" fill="#000" letter-spacing="1.0" stroke="#000" stroke-width="0.3">***</text>
<line x1="271.5" y1="760.3" x2="271.5" y2="766.8" stroke="#111" stroke-width="1.1" />
<line x1="269.5" y1="760.5" x2="273.5" y2="760.5" stroke="#111" stroke-width="1.1" />
<line x1="279.5" y1="638" x2="279.5" y2="678.5" stroke="#111" stroke-width="1.1" />
<line x1="277.5" y1="637.5" x2="281.5" y2="637.5" stroke="#111" stroke-width="1.1" />
<rect x="266.8" y="766.8" width="8.899999999999977" height="12.700000000000045" fill="#000"/>
<rect x="276.2" y="679.0" width="7.600000000000023" height="100.5" fill="#808080" stroke="#1a1a1a" stroke-width="1"/>
<path d="M264.5 630.5V621.8H268.1M284.2 621.8H287.8V630.5" fill="none" stroke="#111" stroke-width="1.25"/>
<text x="277.04999999999995" y="625.8" font-size="8.6" text-anchor="middle" font-weight="bold" font-style="normal" font-family="Liberation Sans" fill="#000" letter-spacing="1.0" stroke="#000" stroke-width="0.3">***</text>
<line x1="205" y1="790.5" x2="221" y2="790.5" stroke="#2a2a2a" stroke-width="1.1" />
<text transform="translate(212,806.6) scale(0.93,1)" font-size="11.6" text-anchor="middle" font-weight="bold" font-family="Liberation Serif" fill="#000" stroke="#000" stroke-width="0.25">2M</text>
<line x1="238" y1="790.5" x2="254.5" y2="790.5" stroke="#2a2a2a" stroke-width="1.1" />
<text transform="translate(245.3,806.6) scale(0.93,1)" font-size="11.6" text-anchor="middle" font-weight="bold" font-family="Liberation Serif" fill="#000" stroke="#000" stroke-width="0.25">5M</text>
<line x1="268" y1="790.5" x2="285" y2="790.5" stroke="#2a2a2a" stroke-width="1.1" />
<text transform="translate(276.6,806.6) scale(0.93,1)" font-size="11.6" text-anchor="middle" font-weight="bold" font-family="Liberation Serif" fill="#000" stroke="#000" stroke-width="0.25">12M</text>
<rect x="237.3" y="779.5" width="17.8" height="1.4" fill="#000"/>
<text x="126" y="13.2" font-size="16.3" text-anchor="middle" font-weight="bold" font-style="normal" font-family="Liberation Sans" fill="#000" stroke="#000" stroke-width="0.25">LIVER</text>
<text x="245" y="13.2" font-size="16.3" text-anchor="middle" font-weight="bold" font-style="normal" font-family="Liberation Sans" fill="#000" stroke="#000" stroke-width="0.25">SPLEEN</text>
<text x="360.6" y="13.2" font-size="16.3" text-anchor="middle" font-weight="bold" font-style="normal" font-family="Liberation Sans" fill="#000" stroke="#000" stroke-width="0.25">KIDNEY</text>
<text x="472.6" y="13.2" font-size="16.3" text-anchor="middle" font-weight="bold" font-style="normal" font-family="Liberation Sans" fill="#000" stroke="#000" stroke-width="0.25">HEART</text>
<text transform="translate(3.4,22.8) scale(1.06,1)" font-size="27.2" font-family="Liberation Sans" fill="#000" stroke="#000" stroke-width="0.95">A</text>
<text transform="translate(2.2,307.4) scale(1.08,1)" font-size="27.4" font-family="Liberation Sans" fill="#000" stroke="#000" stroke-width="0.95">B</text>
<text transform="translate(2.6,574) scale(1.0,1.03)" font-size="26.6" font-family="Liberation Sans" fill="#000" stroke="#000" stroke-width="0.95">C</text>
<text x="32.3" y="97" font-size="16" text-anchor="middle" font-weight="bold" font-style="normal" font-family="Liberation Sans" fill="#000" stroke="#000" stroke-width="0.25">Iron</text>
<text x="33" y="117" font-size="16" text-anchor="middle" font-weight="bold" font-style="normal" font-family="Liberation Sans" fill="#000" stroke="#000" stroke-width="0.25">Content</text>
<text x="29.8" y="136.5" font-size="16" text-anchor="middle" font-weight="bold" font-style="normal" font-family="Liberation Sans" fill="#000" stroke="#000" stroke-width="0.25">(µg/mg</text>
<text x="32.5" y="156" font-size="16" text-anchor="middle" font-weight="bold" font-style="normal" font-family="Liberation Sans" fill="#000" stroke="#000" stroke-width="0.25">of dry</text>
<text x="34.8" y="175.5" font-size="16" text-anchor="middle" font-weight="bold" font-style="normal" font-family="Liberation Sans" fill="#000" stroke="#000" stroke-width="0.25">weight)</text>
<text x="32.6" y="383.7" font-size="16" text-anchor="middle" font-weight="bold" font-style="normal" font-family="Liberation Sans" fill="#000" stroke="#000" stroke-width="0.25">Organ</text>
<text x="31.8" y="404" font-size="16" text-anchor="middle" font-weight="bold" font-style="normal" font-family="Liberation Sans" fill="#000" stroke="#000" stroke-width="0.25">Weight</text>
<text x="32" y="423.5" font-size="16" text-anchor="middle" font-weight="bold" font-style="normal" font-family="Liberation Sans" fill="#000" stroke="#000" stroke-width="0.25">(g)</text>
<text x="29.7" y="654.2" font-size="16" text-anchor="middle" font-weight="bold" font-style="normal" font-family="Liberation Sans" fill="#000" stroke="#000" stroke-width="0.25">Total</text>
<text x="29" y="674" font-size="16" text-anchor="middle" font-weight="bold" font-style="normal" font-family="Liberation Sans" fill="#000" stroke="#000" stroke-width="0.25">iron</text>
<text x="28.6" y="693.5" font-size="16" text-anchor="middle" font-weight="bold" font-style="normal" font-family="Liberation Sans" fill="#000" stroke="#000" stroke-width="0.25">(µg)</text>
<rect x="352.3" y="603.3" width="122" height="140.7" fill="#fff" stroke="#222" stroke-width="1.1"/>
<text x="365.3" y="632.7" font-size="20.6" text-anchor="start" font-weight="bold" font-style="normal" font-family="Liberation Serif" fill="#000" letter-spacing="0.1" stroke="#000" stroke-width="0.2">Legend:</text>
<rect x="369.8" y="661.3" width="13" height="12.8" fill="#000"/>
<rect x="370.3" y="699.3" width="12.2" height="12.3" fill="#808080" stroke="#222" stroke-width="1"/>
<path d="M389.8 667.8H398.40000000000003M394.1 663.0999999999999V672.5" stroke="#1a1a1a" stroke-width="1.15" fill="none"/>
<path d="M398.2 673.8L406.8 661.6" stroke="#1a1a1a" stroke-width="1.1" fill="none"/>
<path d="M407.59999999999997 667.8H416.2M411.9 663.0999999999999V672.5" stroke="#1a1a1a" stroke-width="1.15" fill="none"/>
<text x="388.8" y="714" font-size="18.7" text-anchor="start" font-weight="bold" font-style="italic" font-family="Liberation Serif" fill="#000" >th3</text>
<path d="M412.6 714.6L420.8 700.4" stroke="#1a1a1a" stroke-width="1.1" fill="none"/>
<path d="M421.7 707.7H430.3M426 703.0V712.4000000000001" stroke="#1a1a1a" stroke-width="1.15" fill="none"/>
</svg>
</body></html>
